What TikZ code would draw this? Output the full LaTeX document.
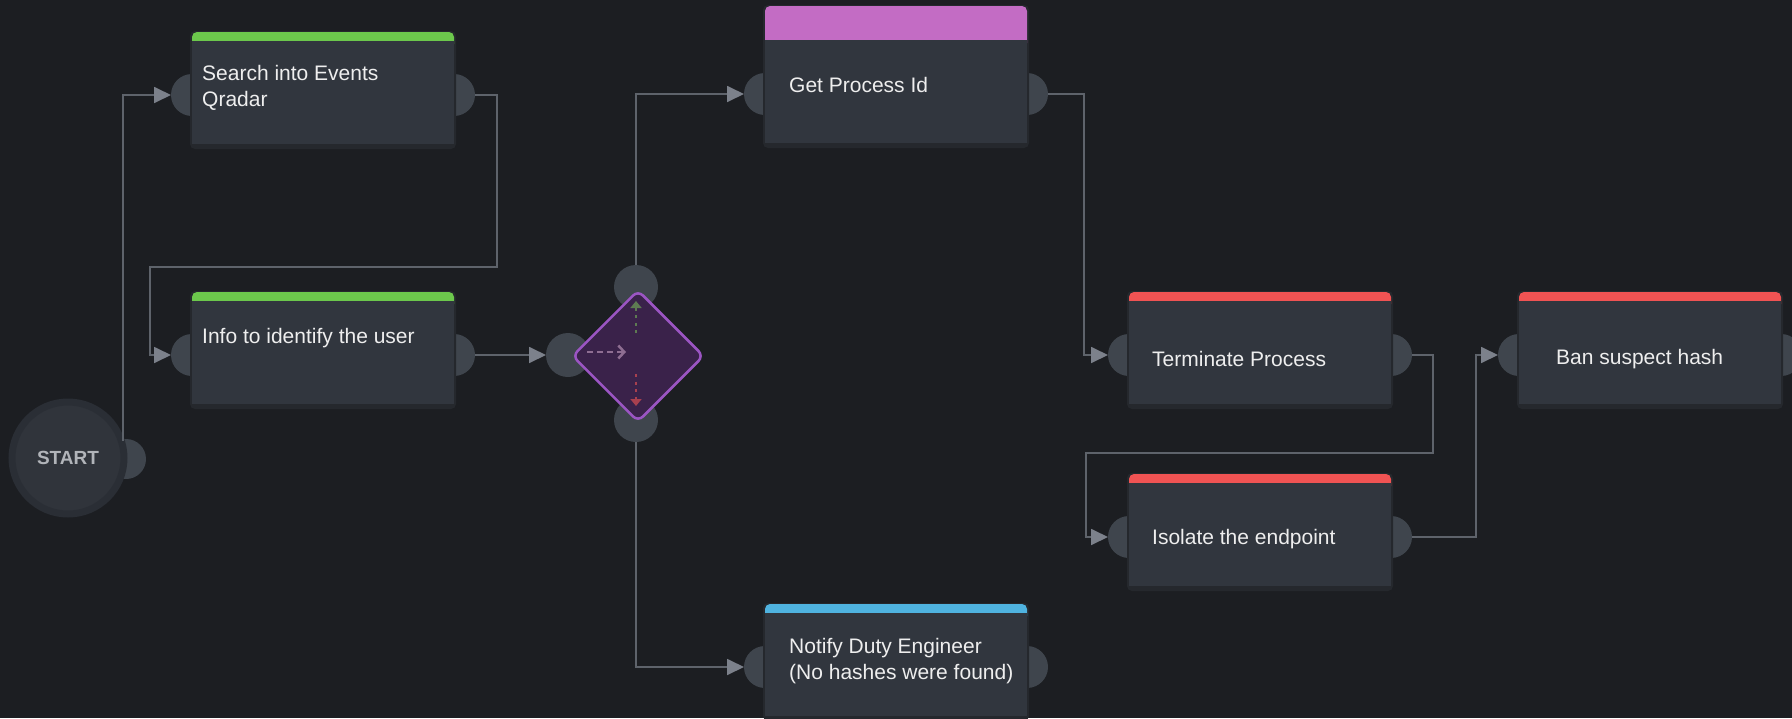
\documentclass[tikz,border=0pt]{standalone}
\usepackage{fontspec}
\setmainfont{Liberation Sans}
\usetikzlibrary{arrows.meta,shapes.geometric,calc}

\definecolor{canvasbg}{HTML}{1C1E22}
\definecolor{bodyc}{HTML}{31363E}
\definecolor{shadowc}{HTML}{25282D}
\definecolor{portc}{HTML}{3F454D}
\definecolor{linec}{HTML}{5E636B}
\definecolor{tipc}{HTML}{7C818B}
\definecolor{txtc}{HTML}{EEEEEE}
\definecolor{barg}{HTML}{6CC84C}
\definecolor{barm}{HTML}{C36CC4}
\definecolor{barr}{HTML}{F05353}
\definecolor{barb}{HTML}{4FB3E0}
\definecolor{decfill}{HTML}{3A224A}
\definecolor{decdraw}{HTML}{9B55C3}
\definecolor{iconh}{HTML}{8E6E92}
\definecolor{iconu}{HTML}{5E7A52}
\definecolor{icond}{HTML}{A8404F}
\definecolor{startfill}{HTML}{30343B}
\definecolor{startring}{HTML}{2A2E35}
\definecolor{starttxt}{HTML}{B1B4B9}

% task box: name, left x, port y, bar colour, bar height
\newcommand{\taskbox}[5]{%
  \node[port] (#1-in) at (#2,#3) {};
  \node[port] (#1-out) at (#2+262,#3) {};
  \fill[shadowc, rounded corners=5pt] (#2-2,#3-55-#5) rectangle (#2+264,#3+54);
  \fill[#4, rounded corners=5pt] (#2,#3-54-#5) rectangle (#2+262,#3-46);
  \node[body] (#1) at (#2,#3-54) {};
}

\begin{document}
\begin{tikzpicture}[x=1pt,y=-1pt,
  port/.style={circle, fill=portc, minimum size=42pt, inner sep=0pt, outer sep=0pt},
  body/.style={rectangle, fill=bodyc, minimum width=262pt, minimum height=103pt,
    inner sep=0pt, outer sep=0pt, anchor=north west},
  lbl/.style={font=\fontsize{21}{26}\selectfont, text=txtc, align=left,
    inner sep=0pt, anchor=base west},
  conn/.style={draw=linec, line width=1.8pt,
    -{Triangle[length=17pt,width=16pt,color=tipc]}},
  decision/.style={diamond, aspect=1, minimum width=132pt, minimum height=132pt,
    inner sep=0pt, fill=decfill, draw=decdraw, line width=2.5pt, rounded corners=7pt},
  startnode/.style={circle, fill=startfill, draw=startring, line width=7pt,
    minimum size=112pt, inner sep=0pt, text=starttxt,
    font=\fontsize{19}{19}\selectfont\bfseries},
  icon/.style={line width=2.5pt}
]
\fill[canvasbg] (0,0) rectangle (1792,718);
\useasboundingbox (0,0) rectangle (1792,718);

% routing corners
\coordinate (loopA) at (497,267);
\coordinate (loopB) at (150,267);
\coordinate (jg) at (1084,200);
\coordinate (jt1) at (1433,453);
\coordinate (jt2) at (1086,453);
\coordinate (ji) at (1476,450);

% start
\node[port, minimum size=40pt] (start-out) at (126,459) {};
\node[startnode] (start) at (68,458) {START};

% task boxes
\taskbox{search}{192}{95}{barg}{9}
\taskbox{info}{192}{355}{barg}{9}
\taskbox{getpid}{765}{94}{barm}{34}
\taskbox{notify}{765}{667}{barb}{9}
\taskbox{term}{1129}{355}{barr}{9}
\taskbox{iso}{1129}{537}{barr}{9}
\taskbox{ban}{1519}{355}{barr}{9}

% decision
\node[port, minimum size=44pt] (dec-in) at (568,355) {};
\node[port, minimum size=44pt] (dec-top) at (636,287) {};
\node[port, minimum size=44pt] (dec-bot) at (636,420) {};
\node[decision] (dec) at (638,356) {};
\draw[icon, iconh, dash pattern=on 6pt off 4pt, -{Straight Barb[length=6pt,width=13pt]}]
  ($(dec.center)+(-51,-4)$) -- ($(dec.center)+(-12,-4)$);
\draw[icon, iconu, dash pattern=on 3pt off 4.5pt, -{Triangle[length=7pt,width=11pt]}]
  ($(dec.center)+(-2,-23)$) -- ($(dec.center)+(-2,-55)$);
\draw[icon, icond, dash pattern=on 3pt off 4.5pt, -{Triangle[length=7pt,width=11pt]}]
  ($(dec.center)+(-2,18)$) -- ($(dec.center)+(-2,50)$);

% labels (multi-line labels are placed by their last baseline)
\node[lbl] (search-t) at (202,106) {Search into Events\\Qradar};
\node[lbl] (info-t) at (202,343) {Info to identify the user};
\node[lbl] (getpid-t) at (789,92) {Get Process Id};
\node[lbl] (notify-t) at (789,679) {Notify Duty Engineer\\(No hashes were found)};
\node[lbl] (term-t) at (1152,366) {Terminate Process};
\node[lbl] (iso-t) at (1152,544) {Isolate the endpoint};
\node[lbl] (ban-t) at (1556,364) {Ban suspect hash};

% connectors
\draw[conn] (start-out.north) ++(-3,2) |- (search-in.west);
\draw[conn] (search-out.east) -| (loopA) -- (loopB) |- (info-in.west);
\draw[conn] (info-out.east) -- (dec-in.west);
\draw[conn] (dec-top.north) |- (getpid-in.west);
\draw[conn] (dec-bot.south) |- (notify-in.west);
\draw[conn] (getpid-out.east) -| (jg) |- (term-in.west);
\draw[conn] (term-out.east) -| (jt1) -- (jt2) |- (iso-in.west);
\draw[conn] (iso-out.east) -| (ji) |- (ban-in.west);
\end{tikzpicture}
\end{document}
